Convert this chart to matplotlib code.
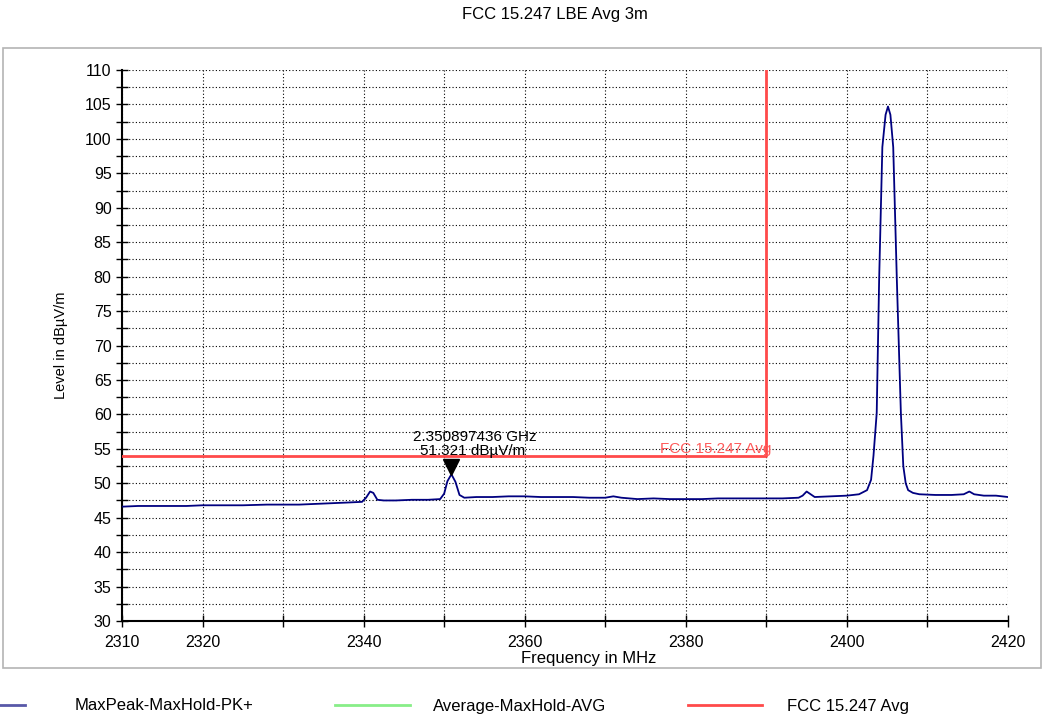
import matplotlib
matplotlib.use("Agg")
import matplotlib.pyplot as plt
from matplotlib.lines import Line2D
from matplotlib.patches import Rectangle
from matplotlib.ticker import MultipleLocator

plt.rcParams['font.family'] = ['Liberation Sans', 'DejaVu Sans']

# measured trace (MaxPeak-MaxHold-PK+), MHz / dBuV/m
freq = [2310, 2312, 2315, 2318, 2320, 2322, 2325, 2328, 2330, 2332, 2334, 2336,
        2338, 2339.8, 2340.3, 2340.8, 2341.2, 2341.7, 2342.5, 2344, 2346, 2348,
        2349.5, 2350.0, 2350.4, 2350.9, 2351.4, 2351.9, 2352.5, 2354, 2356, 2358,
        2360, 2362, 2364, 2366, 2368, 2370, 2371, 2372, 2374, 2376, 2378, 2380,
        2382, 2384, 2386, 2388, 2390, 2392, 2394, 2394.5, 2395.0, 2395.5, 2396,
        2398, 2400, 2401.5, 2402.5, 2403.0, 2403.3, 2403.7, 2404.0, 2404.4,
        2404.8, 2405.1, 2405.4, 2405.75, 2406.2, 2406.7, 2407.0, 2407.3, 2407.6,
        2408.2, 2409, 2411, 2413, 2414.5, 2415.2, 2415.8, 2417, 2418.5, 2420]
level = [46.6, 46.7, 46.7, 46.7, 46.8, 46.8, 46.8, 46.9, 46.9, 46.9, 47.0, 47.1,
         47.2, 47.3, 47.9, 48.8, 48.6, 47.6, 47.5, 47.5, 47.6, 47.6,
         47.7, 48.5, 50.3, 51.3, 50.2, 48.3, 47.9, 48.0, 48.0, 48.1,
         48.1, 48.0, 48.0, 48.0, 47.9, 47.9, 48.1, 47.9, 47.7, 47.8, 47.7, 47.7,
         47.7, 47.8, 47.8, 47.8, 47.8, 47.8, 47.9, 48.2, 48.8, 48.4, 48.0,
         48.1, 48.2, 48.4, 49.0, 50.5, 54.0, 60.2, 79.5, 98.8,
         103.5, 104.7, 103.5, 98.8, 79.5, 60.2, 52.5, 50.0, 49.0,
         48.6, 48.4, 48.3, 48.3, 48.4, 48.8, 48.4, 48.2, 48.2, 48.0]

# FCC 15.247 average limit
limit_freq = [2310, 2390, 2390]
limit_level = [54, 54, 110]

marker_freq = 2350.897436
marker_level = 51.321

xticks = [2310, 2320, 2330, 2340, 2350, 2360, 2370, 2380, 2390, 2400, 2410, 2420]
xticklabels = ['2310', '2320', '', '2340', '', '2360', '', '2380', '', '2400', '', '2420']
legend_labels = ['MaxPeak-MaxHold-PK+', 'Average-MaxHold-AVG', 'FCC 15.247 Avg']
legend_colors = ['#5858a8', '#88ee88', '#ff4a4a']

fig = plt.figure(figsize=(10.44, 7.17), dpi=100)
fig.add_artist(Rectangle((3 / 1044, 1 - 668 / 717), 1038 / 1044, 620 / 717,
                         transform=fig.transFigure, fill=False,
                         edgecolor='#b4b4b4', linewidth=1.2))
ax = fig.add_axes([122 / 1044, 1 - 621 / 717, 886 / 1044, 551 / 717])

ax.plot(freq, level, color='#000080', linewidth=1.3, zorder=4)
ax.plot(limit_freq, limit_level, color='#ff4a4a', linewidth=2, zorder=3)
ax.plot([marker_freq], [marker_level + 1.0], marker='v', color='black',
        markersize=11, linestyle='none', zorder=5)
ax.text(2353.8, 56.7, '2.350897436 GHz', ha='center', va='center', fontsize=11)
ax.text(2353.5, 54.7, '51.321 dBµV/m', ha='center', va='center', fontsize=11)
ax.text(2383.7, 55.0, 'FCC 15.247 Avg', ha='center', va='center', fontsize=11,
        color='#ff5a5a')

ax.set_xlim(2310, 2420)
ax.set_ylim(30, 110)
ax.set_xticks(xticks)
ax.set_xticklabels(xticklabels)
ax.yaxis.set_major_locator(MultipleLocator(5))
ax.yaxis.set_minor_locator(MultipleLocator(2.5))
ax.tick_params(axis='both', which='both', direction='inout', length=8,
               labelsize=11.5, width=1)
ax.tick_params(axis='x', pad=6)
ax.grid(which='both', color='black', linestyle=(0, (1, 2)), linewidth=0.8)
ax.spines['top'].set_visible(False)
ax.spines['right'].set_visible(False)
ax.spines['left'].set_linewidth(1.5)
ax.spines['bottom'].set_linewidth(1.5)
ax.set_axisbelow(True)

ax.set_ylabel('Level in dBµV/m', fontsize=10.5, labelpad=12)
fig.text(589 / 1044, 1 - 659 / 717, 'Frequency in MHz', ha='center',
         va='center', fontsize=12)
fig.text(555 / 1044, 1 - 14 / 717, 'FCC 15.247 LBE Avg 3m', ha='center',
         va='center', fontsize=12)

# legend below the frame
seg_x = [(-5, 25), (335, 410), (688, 762)]
txt_x = [75, 433, 787]
for (x0, x1), tx, lab, col in zip(seg_x, txt_x, legend_labels, legend_colors):
    fig.add_artist(Line2D([x0 / 1044, x1 / 1044], [1 - 705 / 717] * 2,
                          transform=fig.transFigure, color=col, linewidth=2))
    fig.text(tx / 1044, 1 - 706 / 717, lab, ha='left', va='center',
             fontsize=12)

fig.savefig('out.png', dpi=100)
